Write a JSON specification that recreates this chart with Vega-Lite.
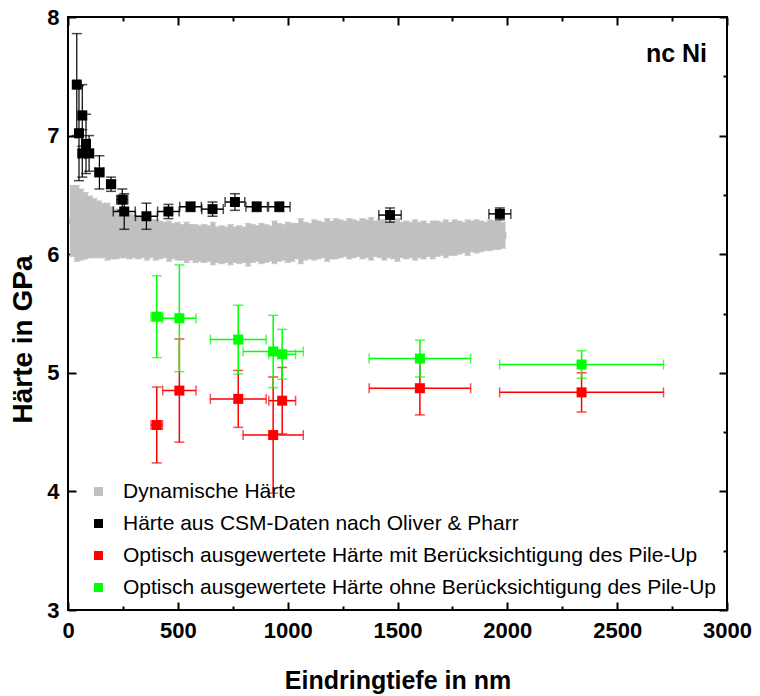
{
  "$schema": "https://vega.github.io/schema/vega-lite/v6.json",
  "autosize": "none",
  "width": 659,
  "height": 593,
  "padding": {"left": 68, "top": 17, "right": 33, "bottom": 86},
  "background": "white",
  "config": {
    "view": {"stroke": "black", "strokeWidth": 2},
    "font": "Liberation Sans"
  },
  "datasets": {
    "dynamic": [
      {"d":20,"h":6.28,"ye":0.30},{"d":40,"h":6.26,"ye":0.32},{"d":60,"h":6.25,"ye":0.30},{"d":80,"h":6.24,"ye":0.28},
      {"d":100,"h":6.23,"ye":0.26},{"d":120,"h":6.22,"ye":0.25},{"d":140,"h":6.21,"ye":0.24},{"d":160,"h":6.20,"ye":0.23},
      {"d":180,"h":6.19,"ye":0.24},{"d":200,"h":6.18,"ye":0.22},{"d":220,"h":6.17,"ye":0.21},{"d":240,"h":6.17,"ye":0.20},
      {"d":260,"h":6.16,"ye":0.19},{"d":280,"h":6.15,"ye":0.19},{"d":300,"h":6.15,"ye":0.18},{"d":320,"h":6.14,"ye":0.18},
      {"d":340,"h":6.14,"ye":0.17},{"d":360,"h":6.13,"ye":0.18},{"d":380,"h":6.13,"ye":0.16},{"d":400,"h":6.12,"ye":0.17},
      {"d":420,"h":6.12,"ye":0.16},{"d":440,"h":6.12,"ye":0.15},{"d":460,"h":6.11,"ye":0.17},{"d":480,"h":6.11,"ye":0.15},
      {"d":500,"h":6.11,"ye":0.16},{"d":520,"h":6.10,"ye":0.15},{"d":540,"h":6.10,"ye":0.17},{"d":560,"h":6.10,"ye":0.15},
      {"d":580,"h":6.09,"ye":0.16},{"d":600,"h":6.09,"ye":0.15},{"d":620,"h":6.09,"ye":0.16},{"d":640,"h":6.09,"ye":0.15},
      {"d":660,"h":6.09,"ye":0.18},{"d":680,"h":6.08,"ye":0.15},{"d":700,"h":6.08,"ye":0.16},{"d":720,"h":6.08,"ye":0.15},
      {"d":740,"h":6.08,"ye":0.17},{"d":760,"h":6.08,"ye":0.15},{"d":780,"h":6.08,"ye":0.16},{"d":800,"h":6.08,"ye":0.15},
      {"d":820,"h":6.08,"ye":0.18},{"d":840,"h":6.09,"ye":0.16},{"d":860,"h":6.09,"ye":0.15},{"d":880,"h":6.09,"ye":0.17},
      {"d":900,"h":6.09,"ye":0.16},{"d":920,"h":6.09,"ye":0.15},{"d":940,"h":6.10,"ye":0.18},{"d":960,"h":6.10,"ye":0.16},
      {"d":980,"h":6.10,"ye":0.15},{"d":1000,"h":6.10,"ye":0.17},{"d":1020,"h":6.10,"ye":0.16},{"d":1040,"h":6.11,"ye":0.15},
      {"d":1060,"h":6.11,"ye":0.19},{"d":1080,"h":6.11,"ye":0.16},{"d":1100,"h":6.11,"ye":0.15},{"d":1120,"h":6.12,"ye":0.17},
      {"d":1140,"h":6.12,"ye":0.16},{"d":1160,"h":6.12,"ye":0.15},{"d":1180,"h":6.12,"ye":0.18},{"d":1200,"h":6.12,"ye":0.16},
      {"d":1220,"h":6.13,"ye":0.17},{"d":1240,"h":6.13,"ye":0.16},{"d":1260,"h":6.13,"ye":0.15},{"d":1280,"h":6.13,"ye":0.17},
      {"d":1300,"h":6.13,"ye":0.16},{"d":1320,"h":6.13,"ye":0.15},{"d":1340,"h":6.13,"ye":0.17},{"d":1360,"h":6.13,"ye":0.16},
      {"d":1380,"h":6.13,"ye":0.18},{"d":1400,"h":6.13,"ye":0.15},{"d":1420,"h":6.13,"ye":0.16},{"d":1440,"h":6.12,"ye":0.17},
      {"d":1460,"h":6.12,"ye":0.15},{"d":1480,"h":6.12,"ye":0.16},{"d":1500,"h":6.12,"ye":0.18},{"d":1520,"h":6.12,"ye":0.15},
      {"d":1540,"h":6.12,"ye":0.16},{"d":1560,"h":6.12,"ye":0.15},{"d":1580,"h":6.12,"ye":0.17},{"d":1600,"h":6.12,"ye":0.15},
      {"d":1620,"h":6.12,"ye":0.16},{"d":1640,"h":6.12,"ye":0.14},{"d":1660,"h":6.12,"ye":0.16},{"d":1680,"h":6.13,"ye":0.15},
      {"d":1700,"h":6.13,"ye":0.14},{"d":1720,"h":6.13,"ye":0.16},{"d":1740,"h":6.13,"ye":0.14},{"d":1760,"h":6.14,"ye":0.15},
      {"d":1780,"h":6.14,"ye":0.14},{"d":1800,"h":6.14,"ye":0.13},{"d":1820,"h":6.14,"ye":0.15},{"d":1840,"h":6.15,"ye":0.13},
      {"d":1860,"h":6.15,"ye":0.14},{"d":1880,"h":6.15,"ye":0.13},{"d":1900,"h":6.15,"ye":0.12},{"d":1920,"h":6.16,"ye":0.13},
      {"d":1940,"h":6.16,"ye":0.12},{"d":1960,"h":6.16,"ye":0.12},{"d":1980,"h":6.16,"ye":0.11}
    ],
    "csm": [
      {"d":40,"h":7.43,"xe":10,"ye":0.43},
      {"d":65,"h":7.17,"xe":10,"ye":0.26},
      {"d":50,"h":7.02,"xe":10,"ye":0.40},
      {"d":82,"h":6.93,"xe":15,"ye":0.25},
      {"d":65,"h":6.85,"xe":15,"ye":0.20},
      {"d":96,"h":6.85,"xe":20,"ye":0.15},
      {"d":143,"h":6.69,"xe":20,"ye":0.14},
      {"d":196,"h":6.59,"xe":20,"ye":0.06},
      {"d":247,"h":6.46,"xe":25,"ye":0.09},
      {"d":256,"h":6.36,"xe":50,"ye":0.15},
      {"d":357,"h":6.32,"xe":50,"ye":0.11},
      {"d":457,"h":6.36,"xe":49,"ye":0.06},
      {"d":558,"h":6.40,"xe":49,"ye":0.04},
      {"d":658,"h":6.38,"xe":49,"ye":0.06},
      {"d":760,"h":6.44,"xe":45,"ye":0.07},
      {"d":859,"h":6.40,"xe":49,"ye":0.04},
      {"d":962,"h":6.40,"xe":49,"ye":0.04},
      {"d":1466,"h":6.33,"xe":51,"ye":0.06},
      {"d":1966,"h":6.34,"xe":50,"ye":0.05}
    ],
    "pileUp": [
      {"d":404,"h":4.56,"xe":26,"ye":0.32},
      {"d":507,"h":4.85,"xe":76,"ye":0.435},
      {"d":775,"h":4.78,"xe":127,"ye":0.24},
      {"d":975,"h":4.765,"xe":61,"ye":0.28},
      {"d":934,"h":4.475,"xe":137,"ye":0.49},
      {"d":1602,"h":4.87,"xe":231,"ye":0.225},
      {"d":2338,"h":4.835,"xe":373,"ye":0.165}
    ],
    "noPileUp": [
      {"d":404,"h":5.473,"xe":26,"ye":0.345},
      {"d":507,"h":5.46,"xe":76,"ye":0.45},
      {"d":775,"h":5.28,"xe":127,"ye":0.29},
      {"d":934,"h":5.18,"xe":137,"ye":0.305},
      {"d":975,"h":5.156,"xe":61,"ye":0.21},
      {"d":1602,"h":5.12,"xe":231,"ye":0.155},
      {"d":2338,"h":5.07,"xe":373,"ye":0.115}
    ]
  },
  "encoding": {
    "x": {"field": "d", "type": "quantitative", "scale": {"domain": [0, 3000], "nice": false, "zero": false}, "axis": null},
    "y": {"field": "h", "type": "quantitative", "scale": {"domain": [3, 8], "nice": false, "zero": false}, "axis": null}
  },
  "layer": [
    {
      "data": {"name": "dynamic"},
      "mark": {"type": "errorbar", "color": "#c0c0c0", "ticks": {"size": 7, "thickness": 1}, "rule": {"strokeWidth": 5}},
      "encoding": {"yError": {"field": "ye"}}
    },
    {
      "data": {"name": "dynamic"},
      "mark": {"type": "point", "shape": "square", "filled": true, "size": 49, "opacity": 1},
      "encoding": {
        "x": {
          "field": "d", "type": "quantitative",
          "scale": {"domain": [0, 3000], "nice": false, "zero": false},
          "axis": {
            "orient": "bottom",
            "values": [0, 250, 500, 750, 1000, 1250, 1500, 1750, 2000, 2250, 2500, 2750, 3000],
            "labelExpr": "datum.value % 500 === 0 ? datum.label : ''",
            "format": "d",
            "tickSize": {"expr": "datum.value % 500 === 0 ? -8 : -4"},
            "tickWidth": 2, "tickColor": "black",
            "domain": false, "grid": false,
            "labelFont": "Liberation Sans", "labelFontWeight": "bold", "labelFontSize": 22, "labelColor": "black",
            "labelPadding": 18, "labelFlush": false, "labelOverlap": false,
            "title": "Eindringtiefe in nm",
            "titleFont": "Liberation Sans", "titleFontWeight": "bold", "titleFontSize": 25, "titleColor": "black",
            "titlePadding": 23
          }
        },
        "y": {
          "field": "h", "type": "quantitative",
          "scale": {"domain": [3, 8], "nice": false, "zero": false},
          "axis": {
            "orient": "left",
            "values": [3, 3.5, 4, 4.5, 5, 5.5, 6, 6.5, 7, 7.5, 8],
            "labelExpr": "datum.value % 1 === 0 ? datum.label : ''",
            "format": "d",
            "tickSize": {"expr": "datum.value % 1 === 0 ? -8 : -4"},
            "tickWidth": 2, "tickColor": "black",
            "domain": false, "grid": false,
            "labelFont": "Liberation Sans", "labelFontWeight": "bold", "labelFontSize": 22, "labelColor": "black",
            "labelPadding": 17, "labelFlush": false, "labelOverlap": false,
            "title": "Härte in GPa",
            "titleFont": "Liberation Sans", "titleFontWeight": "bold", "titleFontSize": 28, "titleColor": "black",
            "titlePadding": 9, "titleY": 322
          }
        },
        "color": {
          "datum": "Dynamische Härte",
          "scale": {
            "domain": [
              "Dynamische Härte",
              "Härte aus CSM-Daten nach Oliver & Pharr",
              "Optisch ausgewertete Härte mit Berücksichtigung des Pile-Up",
              "Optisch ausgewertete Härte ohne Berücksichtigung des Pile-Up"
            ],
            "range": ["#c0c0c0", "#000000", "#ff0000", "#00ff00"]
          },
          "legend": {
            "orient": "none", "legendX": 20, "legendY": 464,
            "title": null, "padding": 0,
            "symbolType": "square", "symbolSize": 81, "symbolStrokeWidth": 0, "symbolOpacity": 1,
            "labelFont": "Liberation Sans", "labelFontSize": 21, "labelColor": "black", "labelLimit": 800,
            "labelOffset": 14, "rowPadding": 10
          }
        }
      }
    },
    {
      "data": {"name": "csm"},
      "mark": {"type": "errorbar", "color": "black", "ticks": {"size": 10, "thickness": 1.5}, "rule": {"strokeWidth": 1.2}},
      "encoding": {"yError": {"field": "ye"}}
    },
    {
      "data": {"name": "csm"},
      "mark": {"type": "errorbar", "color": "black", "ticks": {"size": 10, "thickness": 1.5}, "rule": {"strokeWidth": 1.5}},
      "encoding": {"xError": {"field": "xe"}}
    },
    {
      "data": {"name": "csm"},
      "mark": {"type": "point", "shape": "square", "filled": true, "size": 100, "opacity": 1},
      "encoding": {
        "x": {
          "field": "d", "type": "quantitative",
          "scale": {"domain": [0, 3000], "nice": false, "zero": false},
          "axis": {
            "orient": "top",
            "values": [0, 250, 500, 750, 1000, 1250, 1500, 1750, 2000, 2250, 2500, 2750, 3000],
            "labels": false, "title": null, "domain": false, "grid": false,
            "tickSize": {"expr": "datum.value % 500 === 0 ? -8 : -4"},
            "tickWidth": 2, "tickColor": "black"
          }
        },
        "y": {
          "field": "h", "type": "quantitative",
          "scale": {"domain": [3, 8], "nice": false, "zero": false},
          "axis": {
            "orient": "right",
            "values": [3, 3.5, 4, 4.5, 5, 5.5, 6, 6.5, 7, 7.5, 8],
            "labels": false, "title": null, "domain": false, "grid": false,
            "tickSize": {"expr": "datum.value % 1 === 0 ? -8 : -4"},
            "tickWidth": 2, "tickColor": "black"
          }
        },
        "color": {"datum": "Härte aus CSM-Daten nach Oliver & Pharr"}
      }
    },
    {
      "data": {"name": "pileUp"},
      "mark": {"type": "errorbar", "color": "#ff0000", "ticks": {"size": 10, "thickness": 1.5}, "rule": {"strokeWidth": 1.5}},
      "encoding": {"yError": {"field": "ye"}}
    },
    {
      "data": {"name": "pileUp"},
      "mark": {"type": "errorbar", "color": "#ff0000", "ticks": {"size": 10, "thickness": 1.5}, "rule": {"strokeWidth": 1.5}},
      "encoding": {"xError": {"field": "xe"}}
    },
    {
      "data": {"name": "pileUp"},
      "mark": {"type": "point", "shape": "square", "filled": true, "size": 100, "opacity": 1},
      "encoding": {"color": {"datum": "Optisch ausgewertete Härte mit Berücksichtigung des Pile-Up"}}
    },
    {
      "data": {"name": "noPileUp"},
      "mark": {"type": "errorbar", "color": "#00ff00", "ticks": {"size": 10, "thickness": 1.5}, "rule": {"strokeWidth": 1.5}},
      "encoding": {"yError": {"field": "ye"}}
    },
    {
      "data": {"name": "noPileUp"},
      "mark": {"type": "errorbar", "color": "#00ff00", "ticks": {"size": 10, "thickness": 1.5}, "rule": {"strokeWidth": 1.5}},
      "encoding": {"xError": {"field": "xe"}}
    },
    {
      "data": {"name": "noPileUp"},
      "mark": {"type": "point", "shape": "square", "filled": true, "size": 100, "opacity": 1},
      "encoding": {"color": {"datum": "Optisch ausgewertete Härte ohne Berücksichtigung des Pile-Up"}}
    },
    {
      "data": {"values": [{"d": 2770, "h": 7.69, "label": "nc Ni"}]},
      "mark": {"type": "text", "font": "Liberation Sans", "fontWeight": "bold", "fontSize": 25, "color": "black", "align": "center", "baseline": "middle"},
      "encoding": {"text": {"field": "label"}}
    }
  ]
}
